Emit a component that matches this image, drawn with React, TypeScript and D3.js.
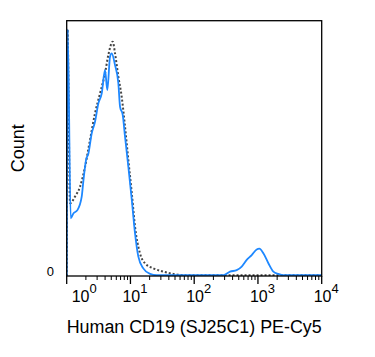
import React from "react";
import * as d3 from "d3";

const blueX = [1, 1.037, 1.155, 1.272, 1.47, 1.72, 1.82, 2.01, 2.19, 2.47, 2.78, 3.14, 3.54, 3.99, 4.34, 4.78, 5.08, 5.73, 6.46, 6.87, 7.56, 8.22, 9.27, 10.5, 11.8, 13.3, 15.9, 20.3, 25.8, 287, 365, 464, 556, 666, 798, 956, 1052, 1216, 1457, 1745, 2090, 2505, 10000];
const blueY = [0, 96.6, 22.6, 24.5, 25.8, 31.1, 36.9, 45.4, 48.0, 55.9, 60.4, 67.6, 71.5, 80.7, 72.8, 85.9, 87.2, 82.6, 75.5, 66.3, 63.1, 54.6, 42.8, 29.8, 16.7, 7.6, 3.0, 0.8, 0.3, 0.3, 1.7, 2.3, 3.7, 6.3, 8.2, 10.4, 10.7, 8.9, 5.0, 1.7, 0.8, 0.3, 0.3];

const dotX = [1, 1.03, 1.128, 1.35, 1.62, 1.94, 2.32, 2.78, 3.33, 3.99, 4.5, 5.27, 5.73, 6.46, 7.29, 8.22, 9.27, 10.5, 11.8, 14.1, 16.9, 22.9, 32.8, 47.1, 76.3, 10000];
const dotY = [0, 96.6, 28.5, 31.1, 35.0, 42.8, 53.3, 63.7, 71.5, 79.4, 86.6, 91.8, 87.2, 78.1, 70.2, 58.5, 45.4, 32.4, 19.3, 8.9, 5.0, 3.0, 1.7, 0.8, 0.3, 0.3];

const decades = [0, 1, 2, 3, 4];
const xTitle = "Human CD19 (SJ25C1) PE-Cy5";
const yTitle = "Count";

export default function App() {
  const W = 375, H = 357;
  const left = 66.7, right = 321.7, top = 20.7, bottom = 276;
  const x = d3.scaleLog().domain([1, 10000]).range([left, right]);
  const y = d3.scaleLinear().domain([0, 100]).range([bottom, top]);
  const line = d3.line<[number, number]>().x(d => x(d[0])).y(d => y(d[1])).curve(d3.curveMonotoneX);
  const blue = line(blueX.map((v, i) => [v, blueY[i]]) as [number, number][]) || "";
  const dotted = line(dotX.map((v, i) => [v, dotY[i]]) as [number, number][]) || "";

  const minor: number[] = [];
  for (let d = 0; d < 4; d++) for (let k = 2; k <= 9; k++) minor.push(k * Math.pow(10, d));

  const font = "Arial, 'Liberation Sans', sans-serif";
  return (
    <svg width={W} height={H} style={{ position: "absolute", left: 0, top: 0 }} fontFamily={font}>
      <rect x={0} y={0} width={W} height={H} fill="#fff" />
      <defs>
        <clipPath id="plot"><rect x={left} y={top} width={right - left} height={bottom - top} /></clipPath>
      </defs>
      <g clipPath="url(#plot)">
        <path d={dotted} fill="none" stroke="#444" strokeWidth={2} strokeDasharray="2,2" />
        <path d={blue} fill="none" stroke="#1E88FF" strokeWidth={1.8} />
      </g>
      <rect x={left} y={top} width={right - left} height={bottom - top} fill="none" stroke="#000" strokeWidth={1.3} />
      {minor.map((v, i) => (
        <line key={"m" + i} x1={x(v)} x2={x(v)} y1={bottom} y2={bottom + 4} stroke="#000" strokeWidth={1} />
      ))}
      {decades.map(d => (
        <line key={"M" + d} x1={x(Math.pow(10, d))} x2={x(Math.pow(10, d))} y1={bottom} y2={bottom + 8} stroke="#000" strokeWidth={1.3} />
      ))}
      {decades.map(d => {
        const cx = x(Math.pow(10, d)) + (d === 0 ? 13 : 0);
        return (
          <text key={"t" + d} x={cx - 8} y={302} fontSize={16} fill="#000">
            10<tspan dy={-9} fontSize={13}>{d}</tspan>
          </text>
        );
      })}
      <text x={54} y={276} fontSize={13} textAnchor="end" fill="#000">0</text>
      <text x={(left + right) / 2} y={333} fontSize={18} textAnchor="middle" fill="#000" textLength={255} lengthAdjust="spacingAndGlyphs">{xTitle}</text>
      <text transform={`translate(24,${(top + bottom) / 2}) rotate(-90)`} fontSize={18} textAnchor="middle" fill="#000">{yTitle}</text>
    </svg>
  );
}
